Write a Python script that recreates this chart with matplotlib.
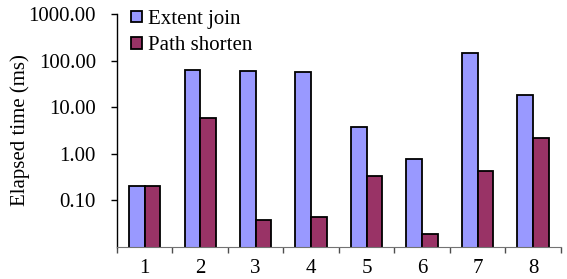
import matplotlib

matplotlib.use("Agg")
import matplotlib.pyplot as plt
import numpy as np
from matplotlib.ticker import FixedLocator, FuncFormatter, NullLocator

plt.rcParams["font.family"] = ["Liberation Serif", "DejaVu Serif"]

categories = ["1", "2", "3", "4", "5", "6", "7", "8"]
extent_join = [0.20, 64.0, 61.0, 57.0, 3.8, 0.77, 144.0, 18.6]
path_shorten = [0.20, 5.9, 0.037, 0.044, 0.34, 0.019, 0.43, 2.2]
y_ticks = [0.1, 1, 10, 100, 1000]

fig = plt.figure(figsize=(5.67, 2.79), dpi=100)
ax = fig.add_axes([0.206, 0.115, 0.783, 0.835])

x = np.arange(len(categories))
w = 0.28
ax.bar(x - w / 2, extent_join, width=w, color="#9999FF", edgecolor="black",
       linewidth=1.3, label="Extent join", bottom=1e-4)
ax.bar(x + w / 2, path_shorten, width=w, color="#993366", edgecolor="black",
       linewidth=1.3, label="Path shorten", bottom=1e-4)

ax.set_yscale("log")
ax.set_ylim(0.01, 1000)
ax.set_xlim(-0.5, len(categories) - 0.5)
ax.yaxis.set_major_locator(FixedLocator(y_ticks))
ax.yaxis.set_minor_locator(NullLocator())
ax.yaxis.set_major_formatter(FuncFormatter(lambda v, p: f"{v:.2f}"))
ax.tick_params(axis="y", labelsize=15, length=4, width=1, direction="out",
               pad=11)

ax.set_xticks(x)
ax.set_xticklabels(categories)
ax.set_xticks(np.arange(len(categories) + 1) - 0.5, minor=True)
ax.tick_params(axis="x", which="major", length=0, labelsize=15, pad=9)
ax.tick_params(axis="x", which="minor", length=4, width=1, color="0.3")

ax.spines["top"].set_visible(False)
ax.spines["right"].set_visible(False)
ax.spines["bottom"].set_color("0.45")
ax.spines["left"].set_linewidth(1)

ax.set_ylabel("Elapsed time (ms)", fontsize=15, va="center")
ax.yaxis.set_label_coords(-0.218, 0.5)

ax.legend(loc="upper left", bbox_to_anchor=(0.0, 1.08), frameon=False,
          fontsize=15, handlelength=0.5, handleheight=0.5, handletextpad=0.3,
          labelspacing=0.35, borderaxespad=0.3)

fig.savefig("out.png", dpi=100)
